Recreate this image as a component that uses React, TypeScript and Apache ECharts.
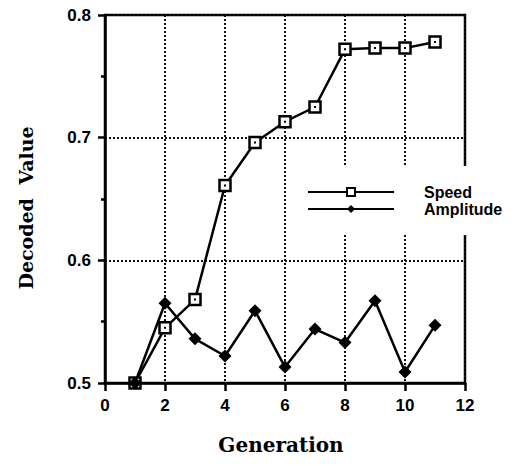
import React, { useEffect, useRef } from "react";
import * as echarts from "echarts";

const generations = [1, 2, 3, 4, 5, 6, 7, 8, 9, 10, 11];
const speedValues = [0.5, 0.545, 0.568, 0.661, 0.696, 0.713, 0.725, 0.772, 0.773, 0.773, 0.778];
const amplitudeValues = [0.5, 0.565, 0.536, 0.522, 0.559, 0.513, 0.544, 0.533, 0.567, 0.509, 0.547];
const seriesNames = ["Speed", "Amplitude"];

export default function App() {
  const ref = useRef<HTMLDivElement>(null);
  useEffect(() => {
    if (!ref.current) return;
    const chart = echarts.init(ref.current, undefined, { renderer: "svg" });
    const speedData = generations.map((g, i) => [g, speedValues[i]]);
    const ampData = generations.map((g, i) => [g, amplitudeValues[i]]);
    const tickFont = { fontFamily: "Liberation Sans, Arial, sans-serif", fontWeight: "bold" as const, fontSize: 17, color: "#000" };
    chart.setOption({
      animation: false,
      backgroundColor: "#fff",
      grid: { left: 105, right: 63, top: 15, bottom: 83, show: true, borderColor: "#000", borderWidth: 2.5, backgroundColor: "transparent" },
      xAxis: {
        type: "value",
        min: 0,
        max: 12,
        interval: 2,
        name: "Generation",
        nameLocation: "middle",
        nameGap: 52,
        nameTextStyle: { fontFamily: "DejaVu Serif", fontWeight: "bold", fontSize: 20, color: "#000", padding: [0, 8, 0, 0] },
        axisLine: { show: true, lineStyle: { color: "#000", width: 2.5 } },
        axisTick: { show: true, length: 8, lineStyle: { color: "#000", width: 2.5 } },
        axisLabel: { ...tickFont, margin: 14 },
        splitLine: { show: true, lineStyle: { color: "#111", width: 2, type: "dotted" } },
      },
      yAxis: {
        type: "value",
        min: 0.5,
        max: 0.8,
        interval: 0.1,
        name: "Decoded  Value",
        nameLocation: "middle",
        nameGap: 70,
        nameTextStyle: { fontFamily: "DejaVu Serif", fontWeight: "bold", fontSize: 19, color: "#000", padding: [0, 18, 0, 0] },
        axisLine: { show: true, lineStyle: { color: "#000", width: 2.5 } },
        axisTick: { show: true, length: 7, lineStyle: { color: "#000", width: 2.5 } },
        minorTick: { show: true, splitNumber: 2, length: 4, lineStyle: { color: "#000", width: 2.5 } },
        axisLabel: { ...tickFont, margin: 14, formatter: (v: number) => v.toFixed(1) },
        splitLine: { show: true, lineStyle: { color: "#111", width: 2, type: "dotted" } },
      },
      legend: {
        data: seriesNames,
        orient: "vertical",
        left: 300,
        top: 166,
        padding: [18, 60, 18, 7],
        backgroundColor: "#fff",
        itemWidth: 86,
        itemHeight: 10,
        itemGap: 1,
        textStyle: { fontFamily: "Liberation Sans, Arial, sans-serif", fontWeight: "bold", fontSize: 16, color: "#000", padding: [0, 0, 0, 25] },
      },
      series: [
        {
          name: seriesNames[0],
          type: "line",
          data: speedData,
          symbol: "rect",
          symbolSize: 11,
          lineStyle: { color: "#000", width: 2.5 },
          itemStyle: { color: "#fff", borderColor: "#000", borderWidth: 2.5 },
          z: 3,
        },
        {
          name: seriesNames[1],
          type: "line",
          data: ampData,
          symbol: "diamond",
          symbolSize: 13,
          lineStyle: { color: "#000", width: 2.5 },
          itemStyle: { color: "#000" },
          z: 3,
        },
        {
          name: "SpeedDot",
          type: "line",
          data: speedData,
          symbol: "rect",
          symbolSize: 2,
          lineStyle: { width: 0, opacity: 0 },
          itemStyle: { color: "#000" },
          z: 4,
        },
      ],
    });
    return () => chart.dispose();
  }, []);
  return <div ref={ref} style={{ position: "fixed", left: 0, top: 0, width: 528, height: 466 }} />;
}
